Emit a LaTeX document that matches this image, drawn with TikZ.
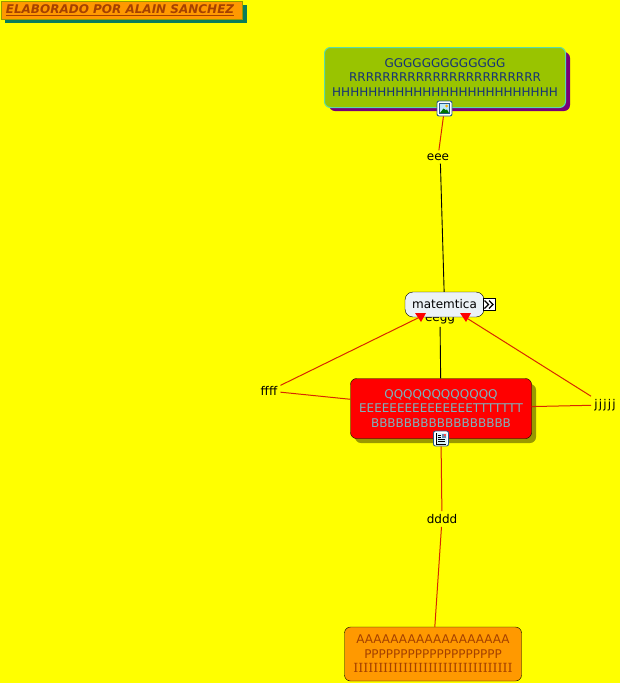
\documentclass[tikz,border=0pt]{standalone}
\usepackage{fontspec}
\setmainfont{DejaVu Sans}
\newfontfamily\serifbars{DejaVu Serif}
\definecolor{bgyellow}{RGB}{255,255,0}
\definecolor{boxorange}{RGB}{255,153,0}
\definecolor{textbrown}{RGB}{165,65,0}
\definecolor{boxgreen}{RGB}{153,196,0}
\definecolor{edgegreen}{RGB}{90,220,170}
\definecolor{textblue}{RGB}{20,50,120}
\definecolor{shadowviolet}{RGB}{120,0,120}
\definecolor{shadowteal}{RGB}{10,125,90}
\definecolor{shadowolive}{RGB}{153,153,0}
\definecolor{boxred}{RGB}{255,0,0}
\definecolor{textgrey}{RGB}{125,180,190}
\definecolor{linered}{RGB}{215,40,0}
\definecolor{paleblue}{RGB}{236,242,246}
\definecolor{iconblue}{RGB}{40,90,140}
\begin{document}
\begin{tikzpicture}
[
    x=1pt, y=-1pt,
    concept/.style={draw=black, rounded corners=6pt, align=center, font=\fontsize{12}{14.6}\selectfont, inner sep=0pt, minimum height=60pt},
    linktext/.style={inner sep=3pt, font=\fontsize{12}{14}\selectfont},
    redline/.style={draw=linered, line width=1pt},
    blackline/.style={draw=black, line width=.9pt},
    arrowhead/.style={fill=red, draw=none},
    iconbox/.style={draw=iconblue, fill=white, rounded corners=2pt, line width=.9pt, minimum size=15pt, inner sep=0pt},
]
\fill [bgyellow] (0,0) rectangle (620,683);
\useasboundingbox (0,0) rectangle (620,683);

\fill [shadowteal] (5,5) rectangle (247,23);
\node [draw=shadowolive, fill=boxorange, text=textbrown, minimum width=241pt, minimum height=18pt, inner sep=0pt, font=\fontsize{12}{14}\selectfont\bfseries\itshape] (title) at (121.5,10.5) {\underline{ELABORADO POR ALAIN SANCHEZ}\hspace*{3pt}};

\fill [shadowviolet, rounded corners=6pt] (329,52) rectangle (570,111);
\node [concept, draw=edgegreen, line width=1pt, fill=boxgreen, text=textblue, minimum width=241pt] (top) at (445,77.5)
{GGGGGGGGGGGGG\\RRRRRRRRRRRRRRRRRRRRRRR\\HHHHHHHHHHHHHHHHHHHHHHHHH};

\node [linktext] (eegg) at (440,319) {eegg};
\node [concept, fill=paleblue, minimum width=79pt, minimum height=25pt, rounded corners=8pt] (mate) at (444.5,304.5) {matemtica};
\node [draw=black, fill=white, line width=.9pt, minimum size=12pt, inner sep=0pt] (more) at (489,304.5) {};
\begin{scope}[shift={(more)}]
\draw [black, line width=1.3pt] (-4.5,-4) -- (-.5,0) -- (-4.5,4) (0,-4) -- (4,0) -- (0,4);
\end{scope}

\fill [shadowolive, rounded corners=6pt] (355,384) rectangle (536,443);
\node [concept, fill=boxred, text=textgrey, minimum width=181pt] (mid) at (441,408.5)
{QQQQQQQQQQQQ\\EEEEEEEEEEEEEEETTTTTTT\\BBBBBBBBBBBBBBBBB};

\node [concept, fill=boxorange, text=textbrown, minimum width=177pt, minimum height=54pt] (low) at (433,654)
{AAAAAAAAAAAAAAAAAA\\PPPPPPPPPPPPPPPPPPP\\{\serifbars\fontsize{12.6}{12}\selectfont IIIIIIIIIIIIIIIIIIIIIIIIIIIIIIII}};

\node [linktext] (eee) at (438,157) {eee};
\node [linktext] (ffff) at (269,391) {ffff};
\node [linktext] (jjjjj) at (605,405) {\addfontfeature{LetterSpace=10}jjjjj};
\node [linktext] (dddd) at (442,519) {dddd};

\node [iconbox] (topicon) at (444.5,108.5) {};
\node [iconbox] (midicon) at (441,438.5) {};

\begin{scope}[shift={(topicon)}]
\fill [iconblue] (-5.5,-5.5) rectangle (5.5,5.5);
\fill [cyan!25] (-4.5,-4.5) rectangle (4.5,4.5);
\fill [orange!60!yellow] (2,-2.5) circle (1.5);
\fill [green!45!black] (-4.5,4.5) -- (-1,0) -- (1,1.5) -- (2.5,1) -- (4.5,4.5) -- cycle;
\end{scope}
\begin{scope}[shift={(midicon)}]
\fill [cyan!15] (-5.5,-5.5) rectangle (5.5,5.5);
\draw [black, line width=.8pt] (-4.5,-5.5) -- (-4.5,5.5) -- (4.5,5.5);
\draw [black, line width=.8pt] (-3,-3.5) -- (0,-3.5) (-3,-1.5) -- (0,-1.5) (-3,.5) -- (4,.5) (-3,2.5) -- (4,2.5);
\fill [iconblue!70] (.8,-5) rectangle (5,-.8);
\fill [red!70] (3,-4.5) rectangle (4.5,-3);
\end{scope}

\draw [redline] (topicon) -- (eee);
\draw [blackline] (eee.-70) -- (mate);
\draw [blackline] (eegg) -- (mid);
\draw [redline] (ffff) -- (mid);
\draw [redline] (jjjjj) -- (mid);
\draw [redline] (midicon) -- (dddd);
\draw [redline] (dddd) -- (low);
\coordinate (tipleft) at (420,317);
\coordinate (tipright) at (465,317);
\draw [redline] (ffff) -- (tipleft);
\draw [redline] (jjjjj) -- (tipright);
\fill [arrowhead] (415,313) -- (426,313) -- (421,322) -- cycle;
\fill [arrowhead] (460,313) -- (471,313) -- (466,322) -- cycle;
\end{tikzpicture}
\end{document}
